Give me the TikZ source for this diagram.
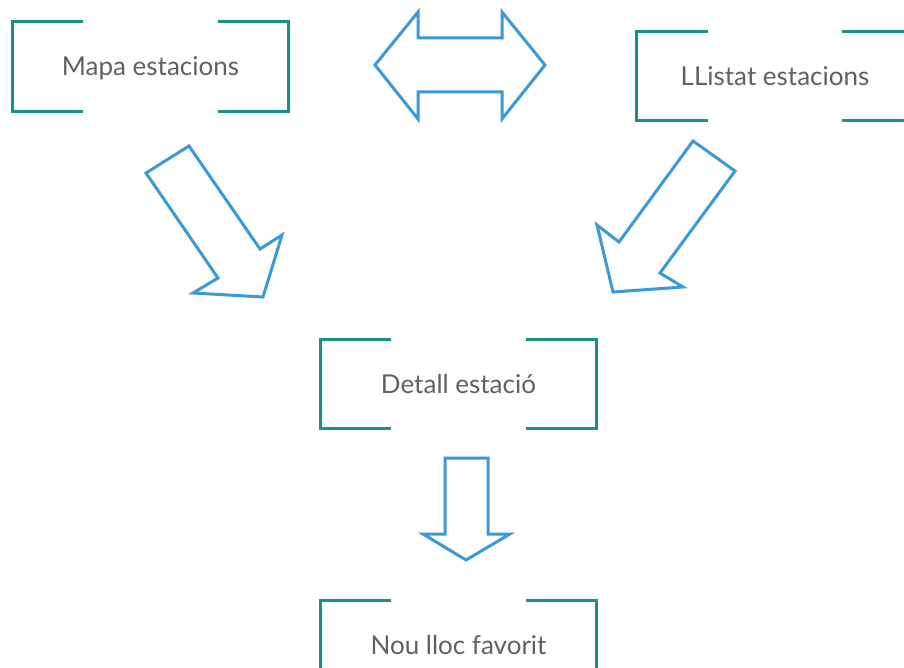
\documentclass[tikz,border=0pt]{standalone}
\usepackage{fontspec}
\setmainfont{Lato}
\definecolor{brk}{RGB}{24,146,130}
\definecolor{arr}{RGB}{58,154,217}
\definecolor{txt}{RGB}{96,96,96}
\begin{document}
\begin{tikzpicture}[x=1pt,y=-1pt,
  boxnode/.style={minimum width=276pt,minimum height=89pt,inner sep=0pt,
    text=txt,font=\fontsize{26}{31}\selectfont,text height=18.5pt,text depth=0pt},
  brackline/.style={draw=brk,line width=3pt,line cap=butt,line join=miter},
  blockarrow/.style={draw=arr,line width=3pt,line join=miter,fill=white}]
\useasboundingbox (0,0) rectangle (904,668);
\node[boxnode] (mapa) at (150.5,66.5) {Mapa estacions};
\node[boxnode] (llistat) at (775,76) {LListat estacions};
\node[boxnode] (detall) at (458.5,384) {Detall estació};
\node[boxnode] (nou) at (458.5,645.5) {Nou lloc favorit};
\foreach \n in {mapa,llistat,detall,nou}{
  \draw[brackline] ([xshift=71pt]\n.north west) -- (\n.north west) -- (\n.south west) -- ([xshift=71pt]\n.south west);
  \draw[brackline] ([xshift=-71pt]\n.north east) -- (\n.north east) -- (\n.south east) -- ([xshift=-71pt]\n.south east);
}
% double arrow between Mapa and LListat
\draw[blockarrow] (375,65) -- (418,12) -- (418,38) -- (502,38) -- (502,12) -- (545,65)
  -- (502,119) -- (502,92) -- (418,92) -- (418,119) -- cycle;
% arrow from Mapa to Detall
\draw[blockarrow] (146,173) -- (189,146) -- (260,249) -- (282,235) -- (263,297)
  -- (193,293) -- (218,278) -- cycle;
% arrow from LListat to Detall
\draw[blockarrow] (735,171) -- (693,141) -- (619,242) -- (597,225) -- (613,292)
  -- (683,287) -- (660,273) -- cycle;
% arrow from Detall to Nou
\draw[blockarrow] (445,458) -- (488,458) -- (488,534) -- (510,534) -- (466,560)
  -- (423,534) -- (445,534) -- cycle;
\end{tikzpicture}
\end{document}
